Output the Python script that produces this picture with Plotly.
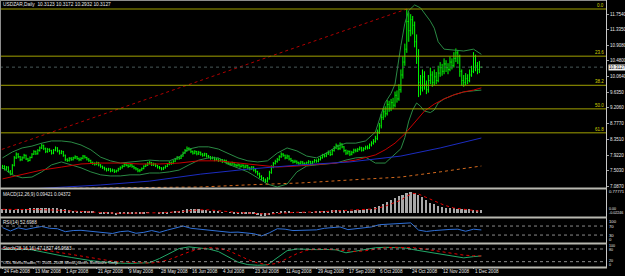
import plotly.graph_objects as go

W, H = 625, 276

# ---------------- price data (daily bars, index 0 = 24 Feb 2008) ----------------
bar_open = [
    7.58, 7.62, 7.55, 7.60, 7.48, 7.42, 7.65, 7.85, 7.95, 7.88,
    7.80, 7.85, 7.92, 7.82, 7.78, 7.86, 7.95, 8.02, 7.96, 8.05,
    8.12, 8.18, 8.10, 8.02, 8.08, 8.05, 7.98, 8.06, 8.12, 8.04,
    7.98, 8.02, 7.92, 7.80, 7.78, 7.84, 7.80, 7.85, 7.88, 7.83,
    7.80, 7.84, 7.90, 7.86, 7.82, 7.78, 7.72, 7.70, 7.68, 7.72,
    7.66, 7.62, 7.58, 7.55, 7.52, 7.55, 7.50, 7.52, 7.48, 7.50,
    7.55, 7.58, 7.62, 7.68, 7.65, 7.62, 7.66, 7.62, 7.58, 7.55,
    7.50, 7.52, 7.56, 7.62, 7.65, 7.70, 7.72, 7.66, 7.68, 7.64,
    7.60, 7.58, 7.55, 7.58, 7.62, 7.68, 7.72, 7.70, 7.76, 7.82,
    7.86, 7.84, 7.90, 7.98, 8.05, 8.10, 8.08, 8.02, 7.98, 8.02,
    7.96, 8.00, 7.95, 7.92, 7.96, 7.90, 7.88, 7.84, 7.86, 7.80,
    7.82, 7.78, 7.80, 7.75, 7.78, 7.72, 7.70, 7.68, 7.72, 7.66,
    7.64, 7.66, 7.62, 7.65, 7.60, 7.64, 7.58, 7.55, 7.60, 7.52,
    7.48, 7.42, 7.35, 7.30, 7.25, 7.22, 7.28, 7.45, 7.60, 7.70,
    7.75, 7.80, 7.88, 7.95, 7.92, 7.85, 7.90, 7.82, 7.78, 7.74,
    7.76, 7.72, 7.70, 7.74, 7.70, 7.68, 7.72, 7.75, 7.70, 7.74,
    7.78, 7.76, 7.80, 7.85, 7.92, 7.90, 7.96, 8.00, 7.94, 8.05,
    8.12, 8.18, 8.10, 8.22, 8.15, 8.05, 7.98, 8.02, 7.95, 8.00,
    8.06, 8.04, 8.08, 8.12, 8.06, 8.10, 8.14, 8.12, 8.20, 8.25,
    8.30, 8.38, 8.55, 8.72, 8.95, 9.10, 9.05, 9.30, 9.20, 9.35,
    9.28, 9.55, 9.45, 9.70, 10.10, 10.45, 10.80, 11.55, 11.30, 11.60,
    11.45, 11.00, 10.60, 9.90, 9.75, 10.05, 9.85, 9.70, 9.95, 10.10,
    9.90, 10.05, 9.95, 10.15, 10.30, 10.20, 10.40, 10.30, 10.25, 10.45,
    10.35, 10.55, 10.70, 10.60, 10.20, 9.95, 9.90, 10.00, 9.95, 10.10,
    10.20, 10.60, 10.35, 10.25, 10.3123,
]
bar_high = [
    7.66, 7.65, 7.63, 7.62, 7.52, 7.68, 7.90, 8.00, 7.98, 7.90,
    7.89, 7.96, 7.94, 7.85, 7.89, 7.98, 8.06, 8.05, 8.09, 8.16,
    8.24, 8.21, 8.13, 8.12, 8.11, 8.07, 8.09, 8.16, 8.14, 8.07,
    8.06, 8.04, 7.94, 7.84, 7.87, 7.87, 7.88, 7.92, 7.90, 7.86,
    7.87, 7.93, 7.92, 7.88, 7.84, 7.80, 7.75, 7.73, 7.75, 7.74,
    7.68, 7.64, 7.61, 7.58, 7.58, 7.57, 7.56, 7.54, 7.53, 7.58,
    7.62, 7.66, 7.72, 7.71, 7.68, 7.70, 7.68, 7.64, 7.60, 7.57,
    7.55, 7.59, 7.65, 7.69, 7.74, 7.77, 7.74, 7.72, 7.70, 7.66,
    7.63, 7.60, 7.61, 7.65, 7.71, 7.76, 7.75, 7.79, 7.85, 7.90,
    7.90, 7.94, 8.02, 8.09, 8.16, 8.14, 8.10, 8.05, 8.06, 8.04,
    8.04, 8.02, 7.98, 7.99, 7.98, 7.93, 7.90, 7.89, 7.88, 7.85,
    7.84, 7.83, 7.82, 7.81, 7.80, 7.75, 7.73, 7.75, 7.74, 7.69,
    7.70, 7.68, 7.68, 7.67, 7.67, 7.66, 7.61, 7.63, 7.62, 7.55,
    7.50, 7.45, 7.38, 7.33, 7.29, 7.33, 7.50, 7.65, 7.74, 7.80,
    7.85, 7.92, 8.00, 7.98, 7.94, 7.94, 7.92, 7.85, 7.80, 7.80,
    7.78, 7.75, 7.77, 7.76, 7.73, 7.75, 7.79, 7.77, 7.77, 7.82,
    7.81, 7.84, 7.89, 7.96, 7.96, 8.00, 8.05, 8.03, 8.09, 8.17,
    8.24, 8.21, 8.27, 8.25, 8.17, 8.08, 8.06, 8.05, 8.04, 8.10,
    8.10, 8.12, 8.16, 8.15, 8.14, 8.18, 8.19, 8.24, 8.30, 8.36,
    8.45, 8.62, 8.80, 9.05, 9.20, 9.25, 9.42, 9.40, 9.45, 9.48,
    9.65, 9.68, 9.85, 10.25, 10.60, 10.95, 11.89, 11.80, 11.75, 11.70,
    11.55, 11.20, 10.80, 10.10, 10.25, 10.20, 9.95, 10.10, 10.30, 10.20,
    10.25, 10.18, 10.35, 10.45, 10.40, 10.55, 10.50, 10.42, 10.60, 10.55,
    10.72, 10.82, 10.78, 10.65, 10.25, 10.10, 10.15, 10.12, 10.25, 10.35,
    10.72, 10.65, 10.45, 10.48, 10.3172,
]
bar_low = [
    7.55, 7.51, 7.52, 7.45, 7.38, 7.40, 7.62, 7.82, 7.84, 7.76,
    7.77, 7.83, 7.79, 7.74, 7.76, 7.84, 7.93, 7.93, 7.94, 8.02,
    8.09, 8.06, 7.98, 7.99, 8.01, 7.94, 7.95, 8.03, 8.00, 7.94,
    7.95, 7.88, 7.76, 7.74, 7.75, 7.77, 7.78, 7.82, 7.80, 7.76,
    7.77, 7.81, 7.83, 7.78, 7.74, 7.69, 7.66, 7.64, 7.65, 7.62,
    7.58, 7.55, 7.51, 7.48, 7.49, 7.46, 7.47, 7.44, 7.45, 7.48,
    7.52, 7.56, 7.60, 7.62, 7.58, 7.60, 7.58, 7.54, 7.51, 7.46,
    7.46, 7.50, 7.54, 7.60, 7.63, 7.67, 7.63, 7.63, 7.60, 7.56,
    7.54, 7.51, 7.52, 7.56, 7.60, 7.65, 7.66, 7.68, 7.74, 7.80,
    7.80, 7.82, 7.88, 7.96, 8.02, 8.04, 7.98, 7.94, 7.95, 7.92,
    7.93, 7.91, 7.88, 7.89, 7.86, 7.84, 7.80, 7.81, 7.76, 7.77,
    7.74, 7.75, 7.71, 7.72, 7.68, 7.66, 7.64, 7.65, 7.62, 7.60,
    7.61, 7.58, 7.59, 7.56, 7.57, 7.54, 7.51, 7.52, 7.48, 7.43,
    7.37, 7.30, 7.25, 7.20, 7.17, 7.18, 7.26, 7.42, 7.57, 7.67,
    7.72, 7.77, 7.85, 7.88, 7.81, 7.82, 7.78, 7.74, 7.70, 7.71,
    7.68, 7.66, 7.67, 7.66, 7.64, 7.65, 7.69, 7.66, 7.67, 7.72,
    7.72, 7.73, 7.78, 7.83, 7.86, 7.87, 7.93, 7.90, 7.92, 8.02,
    8.09, 8.06, 8.07, 8.11, 8.00, 7.93, 7.94, 7.90, 7.92, 7.97,
    8.00, 8.01, 8.05, 8.02, 8.03, 8.07, 8.08, 8.09, 8.16, 8.21,
    8.26, 8.33, 8.50, 8.65, 8.88, 8.95, 9.00, 9.10, 9.12, 9.18,
    9.22, 9.35, 9.40, 9.62, 10.00, 10.35, 10.70, 11.00, 11.15, 11.20,
    10.85, 10.40, 9.50, 9.55, 9.65, 9.70, 9.58, 9.62, 9.85, 9.78,
    9.82, 9.85, 9.90, 10.05, 10.08, 10.12, 10.18, 10.12, 10.20, 10.25,
    10.30, 10.45, 10.40, 10.05, 9.80, 9.78, 9.82, 9.85, 9.90, 10.05,
    10.15, 10.20, 10.12, 10.15, 10.2932,
]
bar_close = [
    7.62, 7.55, 7.60, 7.48, 7.42, 7.65, 7.85, 7.95, 7.88, 7.80,
    7.85, 7.92, 7.82, 7.78, 7.86, 7.95, 8.02, 7.96, 8.05, 8.12,
    8.18, 8.10, 8.02, 8.08, 8.05, 7.98, 8.06, 8.12, 8.04, 7.98,
    8.02, 7.92, 7.80, 7.78, 7.84, 7.80, 7.85, 7.88, 7.83, 7.80,
    7.84, 7.90, 7.86, 7.82, 7.78, 7.72, 7.70, 7.68, 7.72, 7.66,
    7.62, 7.58, 7.55, 7.52, 7.55, 7.50, 7.52, 7.48, 7.50, 7.55,
    7.58, 7.62, 7.68, 7.65, 7.62, 7.66, 7.62, 7.58, 7.55, 7.50,
    7.52, 7.56, 7.62, 7.65, 7.70, 7.72, 7.66, 7.68, 7.64, 7.60,
    7.58, 7.55, 7.58, 7.62, 7.68, 7.72, 7.70, 7.76, 7.82, 7.86,
    7.84, 7.90, 7.98, 8.05, 8.10, 8.08, 8.02, 7.98, 8.02, 7.96,
    8.00, 7.95, 7.92, 7.96, 7.90, 7.88, 7.84, 7.86, 7.80, 7.82,
    7.78, 7.80, 7.75, 7.78, 7.72, 7.70, 7.68, 7.72, 7.66, 7.64,
    7.66, 7.62, 7.65, 7.60, 7.64, 7.58, 7.55, 7.60, 7.52, 7.48,
    7.42, 7.35, 7.30, 7.25, 7.22, 7.28, 7.45, 7.60, 7.70, 7.75,
    7.80, 7.88, 7.95, 7.92, 7.85, 7.90, 7.82, 7.78, 7.74, 7.76,
    7.72, 7.70, 7.74, 7.70, 7.68, 7.72, 7.75, 7.70, 7.74, 7.78,
    7.76, 7.80, 7.85, 7.92, 7.90, 7.96, 8.00, 7.94, 8.05, 8.12,
    8.18, 8.10, 8.22, 8.15, 8.05, 7.98, 8.02, 7.95, 8.00, 8.06,
    8.04, 8.08, 8.12, 8.06, 8.10, 8.14, 8.12, 8.20, 8.25, 8.30,
    8.38, 8.55, 8.72, 8.95, 9.10, 9.05, 9.30, 9.20, 9.35, 9.28,
    9.55, 9.45, 9.70, 10.10, 10.45, 10.80, 11.55, 11.30, 11.60, 11.45,
    11.00, 10.60, 9.90, 9.75, 10.05, 9.85, 9.70, 9.95, 10.10, 9.90,
    10.05, 9.95, 10.15, 10.30, 10.20, 10.40, 10.30, 10.25, 10.45, 10.35,
    10.55, 10.70, 10.60, 10.20, 9.95, 9.90, 10.00, 9.95, 10.10, 10.20,
    10.60, 10.35, 10.25, 10.31, 10.3127,
]

# ---------------- overlays ----------------
bb_up_idx = [0, 5, 10, 15, 20, 25, 30, 35, 40, 45, 50, 55, 60, 65, 70, 75, 80, 85, 90, 95,
             100, 105, 110, 115, 120, 125, 130, 135, 140, 145, 150, 155, 160, 165, 170, 175,
             180, 185, 190, 193, 195, 198, 200, 203, 205, 207, 210, 213, 215, 218, 220, 222,
             225, 230, 235, 240, 244]
bb_up = [7.85, 8.01, 8.12, 8.17, 8.25, 8.31, 8.31, 8.28, 8.20, 8.07, 7.87, 7.77, 7.71, 7.74,
         7.77, 7.79, 7.77, 7.77, 7.87, 8.09, 8.15, 8.15, 8.09, 7.96, 7.85, 7.77, 7.74, 7.77,
         7.98, 8.12, 8.04, 7.90, 7.85, 7.98, 8.15, 8.25, 8.25, 8.31, 8.55, 9.05, 9.35, 9.60,
         9.85, 10.90, 11.50, 11.85, 12.00, 11.92, 11.78, 11.56, 11.37, 11.00, 10.80, 10.78,
         10.75, 10.80, 10.66]
bb_lo_idx = [0, 5, 10, 15, 20, 25, 30, 35, 40, 45, 50, 55, 60, 65, 70, 75, 80, 85, 90, 95,
             100, 105, 110, 115, 120, 125, 130, 135, 140, 145, 150, 155, 160, 165, 170, 175,
             180, 185, 190, 195, 200, 203, 205, 207, 209, 211, 213, 215, 218, 220, 222, 225,
             230, 235, 240, 244]
bb_lo = [7.58, 7.39, 7.31, 7.33, 7.47, 7.66, 7.74, 7.66, 7.58, 7.47, 7.39, 7.36, 7.36, 7.39,
         7.39, 7.44, 7.44, 7.47, 7.52, 7.66, 7.79, 7.85, 7.85, 7.68, 7.58, 7.47, 7.31, 7.14,
         7.06, 7.14, 7.47, 7.63, 7.66, 7.69, 7.71, 7.79, 7.85, 7.87, 7.71, 7.71, 7.95, 8.10,
         8.40, 8.85, 9.15, 9.34, 9.25, 9.12, 9.08, 9.15, 9.34, 9.45, 9.56, 9.64, 9.67, 9.69]
ma_red_idx = [0, 10, 20, 30, 40, 50, 60, 70, 80, 90, 100, 110, 120, 130, 140, 150, 160, 170,
              180, 185, 190, 195, 200, 205, 210, 215, 220, 225, 230, 235, 240, 244]
ma_red = [7.28, 7.39, 7.52, 7.60, 7.685, 7.71, 7.71, 7.685, 7.685, 7.71, 7.77, 7.77, 7.71,
          7.66, 7.60, 7.63, 7.66, 7.71, 7.79, 7.85, 7.93, 8.07, 8.25, 8.50, 8.82, 9.12, 9.31,
          9.45, 9.56, 9.64, 9.69, 9.75]
ma_blue_idx = [5, 24, 50, 75, 101, 126, 152, 177, 203, 223, 244]
ma_blue = [6.98, 7.03, 7.115, 7.22, 7.41, 7.55, 7.66, 7.74, 7.90, 8.12, 8.39]
ma_orange_idx = [24, 50, 75, 101, 126, 152, 177, 203, 223, 244]
ma_orange = [7.02, 7.03, 7.05, 7.06, 7.12, 7.17, 7.25, 7.33, 7.47, 7.63]
trend_idx = [-87, 206]
trend_val = [6.48, 11.89]
fib_levels = [11.89, 10.61, 9.82, 9.18, 8.53]
fib_labels = ["0.0", "23.6", "38.2", "50.0", "61.8"]
last_price = 10.3127

price_ticks = [11.7540, 11.3350, 10.9080, 10.4800, 10.0640, 9.6350, 9.2060, 8.7770,
               8.3510, 7.9220, 7.5030, 7.0870]
price_tick_text = ["11.7540", "11.3350", "10.9080", "10.4800", "10.0640", "9.6350", "9.2060",
                   "8.7770", "8.3510", "7.9220", "7.5030", "7.0870"]

date_idx = [0, 16, 32, 48, 64, 80, 96, 112, 128, 144, 160, 176, 192, 208, 224, 240]
date_text = ["24 Feb 2008", "13 Mar 2008", "1 Apr 2008", "21 Apr 2008", "9 May 2008",
             "28 May 2008", "16 Jun 2008", "4 Jul 2008", "23 Jul 2008", "11 Aug 2008",
             "29 Aug 2008", "17 Sep 2008", "6 Oct 2008", "24 Oct 2008", "12 Nov 2008",
             "1 Dec 2008"]

# ---------------- oscillators ----------------
macd_idx = list(range(0, 245, 2))
macd_hist = [
    0.14, 0.13, 0.12, 0.11, 0.14, 0.15, 0.15, 0.16, 0.16, 0.17,
    0.19, 0.19, 0.18, 0.17, 0.17, 0.15, 0.12, 0.09, 0.07, 0.06,
    0.05, 0.05, 0.04, 0.02, 0.00, -0.02, -0.04, -0.06, -0.07, -0.08,
    -0.07, -0.05, -0.04, -0.04, -0.05, -0.05, -0.03, -0.01, 0.00, 0.00,
    -0.02, -0.03, -0.02, 0.01, 0.04, 0.06, 0.09, 0.12, 0.13, 0.13,
    0.12, 0.10, 0.08, 0.06, 0.04, 0.02, 0.01, 0.00, -0.01, -0.02,
    -0.03, -0.03, -0.04, -0.04, -0.06, -0.09, -0.12, -0.14, -0.10, -0.05,
    -0.01, 0.02, 0.03, 0.02, 0.01, 0.00, -0.01, -0.01, 0.00, 0.01,
    0.02, 0.04, 0.06, 0.07, 0.08, 0.10, 0.10, 0.08, 0.07, 0.07,
    0.08, 0.09, 0.10, 0.12, 0.15, 0.20, 0.26, 0.33, 0.40, 0.47,
    0.55, 0.62, 0.68, 0.74, 0.78, 0.76, 0.68, 0.58, 0.47, 0.38,
    0.31, 0.26, 0.22, 0.19, 0.17, 0.16, 0.15, 0.14, 0.13, 0.12,
    0.11, 0.10, 0.094,
]
macd_sig_idx = [0, 10, 20, 30, 40, 50, 60, 70, 80, 90, 100, 105, 110, 120, 130, 135, 140, 150,
                160, 170, 180, 185, 190, 195, 200, 203, 206, 209, 212, 215, 218, 221, 225, 230,
                237, 244]
macd_sig = [0.12, 0.12, 0.11, 0.08, 0.03, 0.00, -0.03, -0.03, -0.01, 0.03, 0.10, 0.10, 0.06,
            0.00, -0.04, -0.06, -0.04, 0.01, 0.02, 0.06, 0.08, 0.10, 0.14, 0.24, 0.38, 0.47,
            0.62, 0.73, 0.70, 0.60, 0.50, 0.40, 0.28, 0.17, 0.095, 0.044]

rsi_idx = list(range(0, 245, 4))
rsi = [63, 48, 62, 55, 62, 68, 60, 58, 45, 50,
       51, 47, 44, 38, 37, 45, 48, 38, 42, 50,
       42, 52, 60, 70, 60, 56, 52, 48, 46, 42,
       43, 41, 36, 26, 40, 58, 56, 50, 50, 52,
       53, 60, 62, 66, 54, 58, 60, 66, 76, 78,
       78, 82, 84, 52, 46, 50, 54, 55, 56, 47,
       56, 52.7]
rsi_levels = [70, 30]

stoch_idx = list(range(0, 241, 5)) + [244]
stoch_main = [78, 80, 80, 76, 66, 58, 48, 40, 32, 25,
              20, 16, 13, 12, 12, 15, 35, 58, 82, 90,
              86, 80, 68, 42, 18, 6, 3, 5, 38, 72,
              80, 78, 77, 78, 76, 62, 70, 80, 86, 88,
              88, 85, 76, 68, 60, 53, 46, 38, 44, 47.18]
stoch_sig = [84, 84, 82, 80, 76, 70, 62, 54, 45, 37,
             30, 24, 19, 16, 14, 13, 18, 30, 48, 66,
             80, 86, 84, 72, 52, 30, 14, 6, 12, 35,
             58, 74, 79, 78, 77, 72, 68, 72, 80, 86,
             88, 88, 86, 80, 72, 64, 57, 51, 48, 46.97]
stoch_levels = [80, 20]

# ---------------- helpers (pixel -> paper) ----------------
def fx(p):
    return p / W


def fy(p):
    return 1 - p / H


FONT = "Liberation Sans"
TXT = "#e8e8e8"

fig = go.Figure()

# price bars (thin OHLC bars, as the chart is drawn at ~2 px per bar)
fig.add_trace(go.Ohlc(
    x=list(range(len(bar_close))), open=bar_open, high=bar_high, low=bar_low, close=bar_close,
    xaxis="x", yaxis="y", tickwidth=0.35,
    increasing=dict(line=dict(color="#00ff00", width=1)),
    decreasing=dict(line=dict(color="#00ff00", width=1)),
    hoverinfo="skip", showlegend=False))


def line(xs, ys, color, dash="solid", yaxis="y", width=1):
    fig.add_trace(go.Scatter(x=xs, y=ys, mode="lines", yaxis=yaxis, xaxis="x",
                             line=dict(color=color, width=width, dash=dash),
                             hoverinfo="skip", showlegend=False))


line(bb_up_idx, bb_up, "#2a8a44")
line(bb_lo_idx, bb_lo, "#2a8a44")
line(ma_red_idx, ma_red, "#c80000")
line(ma_blue_idx, ma_blue, "#1c2cc0")
line(ma_orange_idx, ma_orange, "#d2691e", dash="dot")
line(trend_idx, trend_val, "#b00000", dash="dot")

# MACD
fig.add_trace(go.Bar(x=macd_idx, y=macd_hist, xaxis="x", yaxis="y2", width=0.9,
                     marker=dict(color="#a8a8a8", line=dict(width=0)),
                     hoverinfo="skip", showlegend=False))
line(macd_sig_idx, macd_sig, "#e00000", dash="dot", yaxis="y2")
# RSI
line(rsi_idx, rsi, "#2f70d8", yaxis="y3")
# Stochastic
line(stoch_idx, stoch_main, "#22a868", yaxis="y4")
line(stoch_idx, stoch_sig, "#e00000", dash="dot", yaxis="y4")

shapes = []
for lv in fib_levels:
    shapes.append(dict(type="line", xref="paper", yref="y", x0=fx(0), x1=fx(606), y0=lv, y1=lv,
                       line=dict(color="#a0a000", width=1)))
shapes.append(dict(type="line", xref="paper", yref="y", x0=fx(0), x1=fx(606), y0=last_price,
                   y1=last_price, line=dict(color="#4a5a5a", width=1, dash="dot")))
for lv in rsi_levels:
    shapes.append(dict(type="line", xref="paper", yref="y3", x0=fx(0), x1=fx(606), y0=lv, y1=lv,
                       line=dict(color="#8a8a8a", width=1, dash="dot")))
for lv in stoch_levels:
    shapes.append(dict(type="line", xref="paper", yref="y4", x0=fx(0), x1=fx(606), y0=lv, y1=lv,
                       line=dict(color="#8a8a8a", width=1, dash="dot")))
# frame
shapes.append(dict(type="line", xref="paper", yref="paper", x0=0, x1=fx(607), y0=fy(0.5), y1=fy(0.5),
                   line=dict(color="#8c8c8c", width=1)))
shapes.append(dict(type="line", xref="paper", yref="paper", x0=fx(0.5), x1=fx(0.5), y0=fy(0), y1=fy(268),
                   line=dict(color="#8c8c8c", width=1)))
shapes.append(dict(type="line", xref="paper", yref="paper", x0=fx(606.5), x1=fx(606.5), y0=fy(0), y1=fy(268),
                   line=dict(color="#c8c8c8", width=1)))
for sy in [188.5, 217.5, 243.5, 267.5]:
    shapes.append(dict(type="line", xref="paper", yref="paper", x0=0, x1=fx(607), y0=fy(sy), y1=fy(sy),
                       line=dict(color="#b8b8b0", width=2)))

ann = []


def text(x, y, s, size=4.6, color=TXT, xanchor="left", xref="paper", yref="paper", **kw):
    ann.append(dict(x=x, y=y, xref=xref, yref=yref, text=s, showarrow=False, xanchor=xanchor,
                    yanchor=kw.pop("yanchor", "middle"),
                    font=dict(family=FONT, size=size, color=color), borderpad=0, **kw))


text(fx(2), fy(5), "USDZAR,Daily  10.3123 10.3172 10.2932 10.3127", size=4.8)
text(fx(2), fy(194), "MACD(12,26,9) 0.09421 0.04372", size=4.6)
text(fx(2), fy(222.5), "RSI(14) 52.6988", size=4.6)
text(fx(2), fy(248), "Stoch(28,16,16) 47.1827 46.9683", size=4.6)
text(fx(2), fy(262.5), "ODL MetaTrader, © 2001-2008 MetaQuotes Software Corp.", size=4.4)

for v, s in zip(price_ticks, price_tick_text):
    text(fx(609), v, s, size=4.5, yref="y")
text(fx(607.5), last_price, "10.3127", size=4.5, color="#000000", yref="y", bgcolor="#f0f0f0")

for lv, s in zip(fib_levels, fib_labels):
    text(fx(605), lv, s, size=4.5, color="#d4d400", xanchor="right", yref="y", yanchor="bottom")

# sub-window scale labels
for py, s, sz in [(191.5, "0.77771", 4.2), (209.3, "0.00", 3.6), (213.3, "-0.02246", 3.6),
                  (221.5, "100", 4.2), (226, "70", 4.2), (235, "30", 4.2), (239.8, "0", 4.2),
                  (245.8, "100", 3.6), (249.8, "80", 3.6), (260.6, "20", 3.6), (264.6, "0", 3.6)]:
    text(fx(608), fy(py), s, size=sz)

for i, s in zip(date_idx, date_text):
    text(i, fy(271.5), s, size=4.6, xref="x")

axis_common = dict(showgrid=False, zeroline=False, showline=False, fixedrange=True, automargin=False)
fig.update_layout(
    width=W, height=H, margin=dict(l=0, r=0, t=0, b=0),
    paper_bgcolor="#000000", plot_bgcolor="#000000", showlegend=False,
    template="none", bargap=0,
    xaxis=dict(domain=[fx(1), fx(606)], range=[-0.764, 307.5], anchor="y4", showticklabels=False,
               ticks="outside", ticklen=2, tickcolor="#a0a0a0", tickvals=date_idx,
               rangeslider=dict(visible=False), **axis_common),
    yaxis=dict(domain=[fy(188), fy(1)], range=[7.033, 12.107], anchor="x", side="right",
               showticklabels=False, ticks="outside", ticklen=2, tickcolor="#a0a0a0",
               tickvals=price_ticks, **axis_common),
    yaxis2=dict(domain=[fy(216), fy(190)], range=[-0.133, 0.855], anchor="x", side="right",
                showticklabels=False, **axis_common),
    yaxis3=dict(domain=[fy(242), fy(219)], range=[-0.9, 101.3], anchor="x", side="right",
                showticklabels=False, **axis_common),
    yaxis4=dict(domain=[fy(266), fy(245)], range=[-0.5, 99], anchor="x", side="right",
                showticklabels=False, **axis_common),
    shapes=shapes, annotations=ann,
)

fig.write_html("out.html")
